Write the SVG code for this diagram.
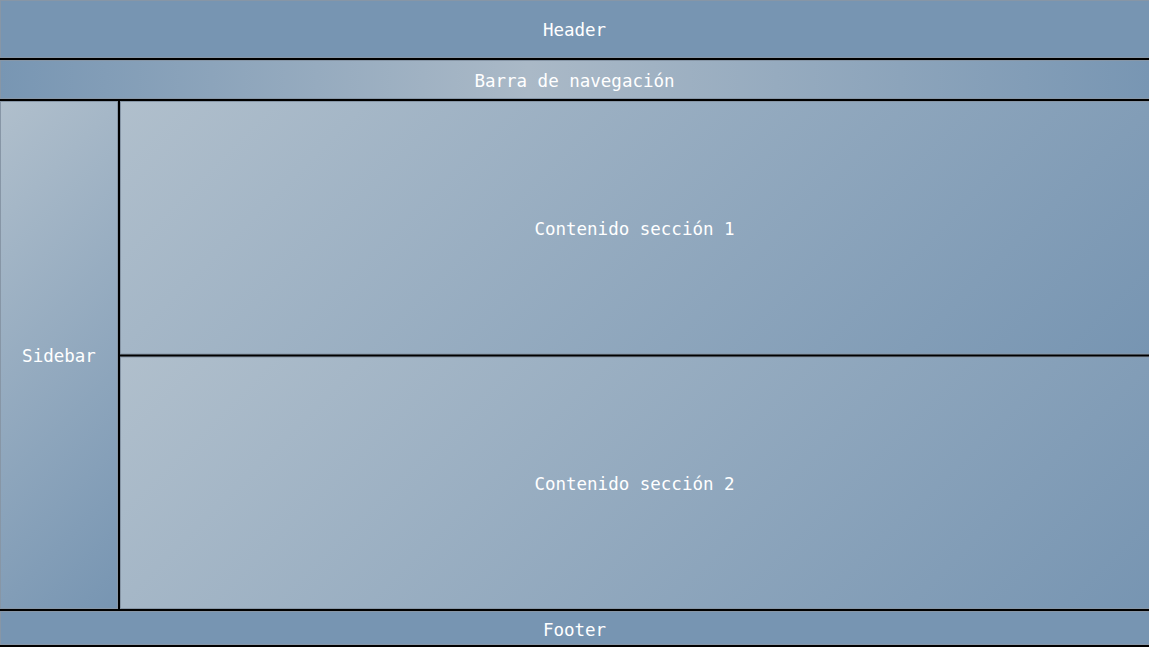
<svg xmlns="http://www.w3.org/2000/svg" width="1149" height="647" viewBox="0 0 1149 647">
  <style>
    .cell { stroke: #8796a6; stroke-width: 1; }
    .lbl { font-family: "DejaVu Sans Mono", "Liberation Mono", monospace; font-size: 17.5px; fill: #ffffff; text-anchor: middle; }
  </style>
  <defs>
    <linearGradient id="gNav" gradientUnits="userSpaceOnUse" x1="0" y1="0" x2="1149" y2="0">
      <stop offset="0" stop-color="#7896b3"/>
      <stop offset="0.46" stop-color="#aab9c7"/>
      <stop offset="1" stop-color="#7896b3"/>
    </linearGradient>
    <linearGradient id="gSide" gradientUnits="userSpaceOnUse" x1="-97.25" y1="199.25" x2="215.25" y2="511.75">
      <stop offset="0" stop-color="#b0bfcc"/>
      <stop offset="1" stop-color="#7795b2"/>
    </linearGradient>
    <linearGradient id="gC1" gradientUnits="userSpaceOnUse" x1="314.1" y1="-92.1" x2="954.9" y2="548.6">
      <stop offset="0" stop-color="#b0bfcc"/>
      <stop offset="1" stop-color="#7795b2"/>
    </linearGradient>
    <linearGradient id="gC2" gradientUnits="userSpaceOnUse" x1="314.1" y1="162.4" x2="954.9" y2="803.1">
      <stop offset="0" stop-color="#b0bfcc"/>
      <stop offset="1" stop-color="#7795b2"/>
    </linearGradient>
  </defs>
  <rect x="0" y="0" width="1149" height="647" fill="#000000"/>
  <g id="header">
    <rect class="cell" x="0.5" y="0.5" width="1149" height="57" fill="#7795b2"/>
    <text class="lbl" x="574.5" y="35.7">Header</text>
  </g>
  <g id="nav">
    <rect class="cell" x="0.5" y="60.5" width="1149" height="38" fill="url(#gNav)"/>
    <text class="lbl" x="574.5" y="86.7">Barra de navegación</text>
  </g>
  <g id="sidebar">
    <rect class="cell" x="0.5" y="101.5" width="117" height="507" fill="url(#gSide)"/>
    <text class="lbl" x="59" y="362">Sidebar</text>
  </g>
  <g id="content1">
    <rect class="cell" x="120.5" y="101.5" width="1029" height="252.5" fill="url(#gC1)"/>
    <text class="lbl" x="634.5" y="234.7">Contenido sección 1</text>
  </g>
  <g id="content2">
    <rect class="cell" x="120.5" y="357" width="1029" height="251.5" fill="url(#gC2)"/>
    <text class="lbl" x="634.5" y="489.7">Contenido sección 2</text>
  </g>
  <g id="footer">
    <rect class="cell" x="0.5" y="611.5" width="1149" height="33" fill="#7795b2"/>
    <text class="lbl" x="574.5" y="635.7">Footer</text>
  </g>
  <g id="connectors"></g>
</svg>
